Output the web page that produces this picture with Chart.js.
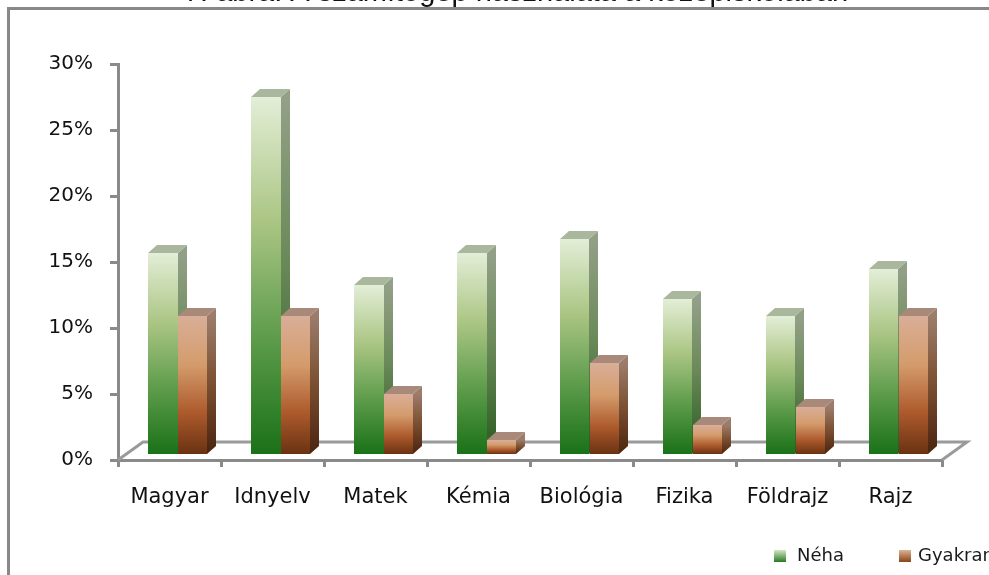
<!DOCTYPE html>
<html>
<head>
<meta charset="utf-8">
<script src="https://cdn.jsdelivr.net/npm/chart.js@4/dist/chart.umd.min.js"></script>
<style>
    html, body { margin: 0; padding: 0; background: #fff; }
    #wrap { position: relative; width: 989px; height: 575px; overflow: hidden; }
    #frame { position: absolute; left: 7px; top: 7px; width: 1000px; height: 600px;
             border-left: 3px solid #888; border-top: 3px solid #888; box-sizing: border-box; }
    #chart { position: absolute; left: 0; top: 0; }
</style>
</head>
<body>
<div id="wrap">
    <div id="frame"></div>
    <canvas id="chart" width="989" height="575"></canvas>
</div>
<script>
// ====== DATA ======
const TITLE = '7. ábra: A számítógép használata a középiskolában';
const CATEGORIES = ['Magyar', 'Idnyelv', 'Matek', 'Kémia', 'Biológia', 'Fizika', 'Földrajz', 'Rajz'];
const NEHA    = [15.3, 27.1, 12.9, 15.3, 16.4, 11.8, 10.5, 14.1];
const GYAKRAN = [10.5, 10.5, 4.6, 1.1, 7.0, 2.3, 3.6, 10.5];
const SERIES_NAMES = ['Néha', 'Gyakran'];
const Y_TICKS_MAX = 30;

// ====== STYLE ======
const FONT = '"DejaVu Sans", sans-serif';
const AXIS = '#8a8a8a';
const DEPTH = { dx: 9, dy: -8 };      // 3D depth of a column
const SHIFT = { x: 8, y: -5 };        // columns stand back on the floor
const FLOOR = { dx: 25, dy: -18 };

const PALETTE = [
    {   // Néha
        front: [[0, '#e3eed7'], [0.35, '#aac583'], [0.68, '#5c9b4a'], [1, '#1a7118']],
        side:  [[0, '#93a088'], [0.45, '#6b8a59'], [1, '#2a5a22']],
        top: '#a9b79d',
        legend: [[0, '#d5e6c4'], [1, '#2a7a24']]
    },
    {   // Gyakran
        front: [[0, '#d9ae98'], [0.35, '#d49c6c'], [0.7, '#ad5a2c'], [1, '#6a3212']],
        side:  [[0, '#9c7c6a'], [0.5, '#7a4e30'], [1, '#4a2410']],
        top: '#a98a7a',
        legend: [[0, '#dcb394'], [1, '#8a4418']]
    }
];

function grad(ctx, y0, y1, stops) {
    const g = ctx.createLinearGradient(0, y0, 0, y1);
    stops.forEach(s => g.addColorStop(s[0], s[1]));
    return g;
}

// ====== PLUGIN: floor, 3D columns, title, legend ======
const threeD = {
    id: 'threeD',
    beforeDatasetsDraw(chart) {
        const { ctx, chartArea } = chart;
        const l = chartArea.left, r = chartArea.right, b = chartArea.bottom;
        ctx.save();
        ctx.strokeStyle = '#9a9a9a';
        ctx.lineWidth = 3;
        ctx.beginPath();
        ctx.moveTo(l, b);
        ctx.lineTo(l + FLOOR.dx, b + FLOOR.dy);
        ctx.lineTo(r + FLOOR.dx, b + FLOOR.dy);
        ctx.lineTo(r, b);
        ctx.stroke();
        ctx.restore();
    },
    afterDatasetsDraw(chart) {
        const { ctx } = chart;
        const metas = chart.data.datasets.map((d, i) => chart.getDatasetMeta(i));
        ctx.save();
        CATEGORIES.forEach((c, idx) => {
            metas.forEach((meta, di) => {
                const el = meta.data[idx];
                const p = PALETTE[di];
                const w = el.width;
                const x0 = Math.round(el.x - w / 2 + SHIFT.x);
                const x1 = Math.round(el.x + w / 2 + SHIFT.x);
                const yt = Math.round(el.y + SHIFT.y);
                const yb = Math.round(el.base + SHIFT.y);
                // side
                ctx.fillStyle = grad(ctx, yt, yb, p.side);
                ctx.beginPath();
                ctx.moveTo(x1, yt);
                ctx.lineTo(x1 + DEPTH.dx, yt + DEPTH.dy);
                ctx.lineTo(x1 + DEPTH.dx, yb + DEPTH.dy);
                ctx.lineTo(x1, yb);
                ctx.closePath();
                ctx.fill();
                // top
                ctx.fillStyle = p.top;
                ctx.beginPath();
                ctx.moveTo(x0, yt);
                ctx.lineTo(x0 + DEPTH.dx, yt + DEPTH.dy);
                ctx.lineTo(x1 + DEPTH.dx, yt + DEPTH.dy);
                ctx.lineTo(x1, yt);
                ctx.closePath();
                ctx.fill();
                // front
                ctx.fillStyle = grad(ctx, yt, yb, p.front);
                ctx.fillRect(x0, yt, x1 - x0, yb - yt);
            });
        });
        ctx.restore();
    },
    afterDraw(chart) {
        const { ctx } = chart;
        ctx.save();
        // title, mostly cut off by the top edge
        ctx.fillStyle = '#111';
        ctx.font = '29px "Liberation Sans", Arial, sans-serif';
        ctx.textAlign = 'center';
        ctx.textBaseline = 'alphabetic';
        ctx.fillText(TITLE, 516, 1);
        // legend
        const items = [{ box: 774, text: 797 }, { box: 899, text: 918 }];
        ctx.font = '18px ' + FONT;
        ctx.textAlign = 'left';
        ctx.textBaseline = 'middle';
        items.forEach((it, i) => {
            ctx.fillStyle = grad(ctx, 550, 562, PALETTE[i].legend);
            ctx.fillRect(it.box, 550, 12, 12);
            ctx.fillStyle = '#1a1a1a';
            ctx.fillText(SERIES_NAMES[i], it.text, 556);
        });
        ctx.restore();
    }
};

// ====== CHART ======
new Chart(document.getElementById('chart'), {
    type: 'bar',
    data: {
        labels: CATEGORIES,
        datasets: [
            { label: SERIES_NAMES[0], data: NEHA, backgroundColor: 'rgba(0,0,0,0)' },
            { label: SERIES_NAMES[1], data: GYAKRAN, backgroundColor: 'rgba(0,0,0,0)' }
        ]
    },
    options: {
        responsive: false,
        animation: false,
        events: [],
        categoryPercentage: 0.573,
        barPercentage: 1,
        layout: { padding: { top: 64, right: 47, left: 0, bottom: 0 } },
        plugins: { legend: { display: false }, tooltip: { enabled: false }, title: { display: false } },
        scales: {
            x: {
                afterFit: s => { s.height = 115; },
                grid: { drawOnChartArea: false, color: AXIS, lineWidth: 3, tickLength: 7, offset: true },
                border: { color: AXIS, width: 3 },
                ticks: { color: '#111', font: { family: FONT, size: 21 }, padding: 18, maxRotation: 0 }
            },
            y: {
                min: 0,
                max: Y_TICKS_MAX,
                afterFit: s => { s.width = 118; },
                grid: { drawOnChartArea: false, color: AXIS, lineWidth: 3, tickLength: 8 },
                border: { color: AXIS, width: 3 },
                ticks: { stepSize: 5, color: '#111', font: { family: FONT, size: 20 }, padding: 17,
                         callback: v => v + '%' }
            }
        }
    },
    plugins: [threeD]
});
</script>
</body>
</html>
